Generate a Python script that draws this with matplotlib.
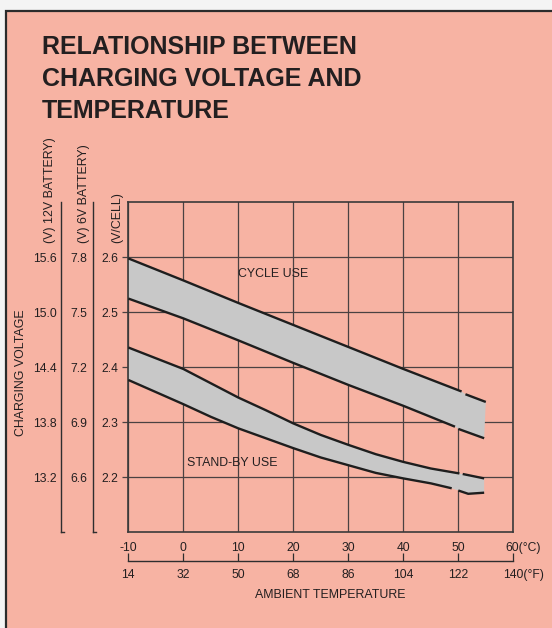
import numpy as np
import matplotlib
matplotlib.use("Agg")
import matplotlib.pyplot as plt
from matplotlib.patches import Rectangle

plt.rcParams['font.family'] = ['Liberation Sans', 'DejaVu Sans']

# axis ticks
temp_c = [-10, 0, 10, 20, 30, 40, 50, 60]
temp_f = [14, 32, 50, 68, 86, 104, 122, 140]
volt_cell = [2.2, 2.3, 2.4, 2.5, 2.6]
volt_12v = [13.2, 13.8, 14.4, 15.0, 15.6]
volt_6v = [6.6, 6.9, 7.2, 7.5, 7.8]

# curves (deg C, V/cell): solid part, then the short piece after the break
cycle_hi_t = [-10, 0, 10, 20, 30, 40, 50.6]
cycle_hi_v = [2.598, 2.558, 2.517, 2.477, 2.437, 2.397, 2.356]
cycle_hi_ext_t = [51.3, 55.0]
cycle_hi_ext_v = [2.351, 2.337]

cycle_lo_t = [-10, 0, 10, 20, 30, 40, 49.4]
cycle_lo_v = [2.525, 2.489, 2.449, 2.408, 2.368, 2.330, 2.292]
cycle_lo_ext_t = [50.0, 54.7]
cycle_lo_ext_v = [2.288, 2.271]

stby_hi_t = [-10, 0, 5, 10, 15, 20, 25, 30, 35, 40, 45, 50.2]
stby_hi_v = [2.436, 2.397, 2.371, 2.345, 2.322, 2.298, 2.277, 2.259, 2.242, 2.228, 2.216, 2.207]
stby_hi_ext_t = [50.8, 54.7]
stby_hi_ext_v = [2.206, 2.198]

stby_lo_t = [-10, 0, 5, 10, 15, 20, 25, 30, 35, 40, 45, 48.8]
stby_lo_v = [2.377, 2.333, 2.310, 2.289, 2.271, 2.253, 2.236, 2.222, 2.208, 2.198, 2.189, 2.180]
stby_lo_ext_t = [50.0, 51.8, 54.7]
stby_lo_ext_v = [2.176, 2.170, 2.172]

bg = "#f7b3a3"
ink = "#231f20"
band = "#c8c8c8"
grid_col = "#4a4242"
line_col = "#1e1e1e"

W, H = 552, 628
fig = plt.figure(figsize=(W / 100, H / 100), dpi=100)
fig.patch.set_facecolor("#f4f4f4")
panel = Rectangle((6 / W, -0.1), 1.2, 1 - 11.3 / H + 0.1, transform=fig.transFigure,
                  facecolor=bg, edgecolor="#2b2b2b", linewidth=1.6, zorder=-5)
fig.add_artist(panel)

# title
for i, line in enumerate(["RELATIONSHIP BETWEEN", "CHARGING VOLTAGE AND", "TEMPERATURE"]):
    fig.text(41.7 / W, 1 - (54.3 + 32 * i) / H, line, fontsize=18, fontweight="bold",
             color=ink, ha="left", va="baseline")

ax = fig.add_axes([128.3 / W, (H - 532.3) / H, 385 / W, 330 / H])
ax.set_facecolor("none")
ax.set_xlim(-10, 60)
ax.set_ylim(2.1, 2.7)

ax.set_xticks(temp_c, labels=[str(t) for t in temp_c[:-1]] + [""])
ax.set_yticks(volt_cell, labels=[f"{v:.1f}" for v in volt_cell])
ax.grid(True, color=grid_col, linewidth=0.9)
ax.set_axisbelow(True)
ax.tick_params(axis="x", length=0, pad=6.8, labelsize=8.7, labelcolor=ink)
ax.tick_params(axis="y", direction="out", length=4.5, width=0.9, color=grid_col,
               pad=2.5, labelsize=8.7, labelcolor=ink)
for s in ax.spines.values():
    s.set_color("#3a3a3a")
    s.set_linewidth(1.2)

# bands with broken edge lines
bands = [
    (cycle_hi_t, cycle_hi_v, cycle_hi_ext_t, cycle_hi_ext_v,
     cycle_lo_t, cycle_lo_v, cycle_lo_ext_t, cycle_lo_ext_v),
    (stby_hi_t, stby_hi_v, stby_hi_ext_t, stby_hi_ext_v,
     stby_lo_t, stby_lo_v, stby_lo_ext_t, stby_lo_ext_v),
]
for ht, hv, hxt, hxv, lt, lv, lxt, lxv in bands:
    xs = np.r_[ht, hxt, lxt[::-1], lt[::-1]]
    ys = np.r_[hv, hxv, lxv[::-1], lv[::-1]]
    ax.fill(xs, ys, color=band, lw=0, zorder=2)
    for t, v in [(ht, hv), (hxt, hxv), (lt, lv), (lxt, lxv)]:
        ax.plot(t, v, color=line_col, lw=1.7, zorder=3, solid_capstyle="butt",
                solid_joinstyle="round")

ax.text(10, 2.57, "CYCLE USE", fontsize=8.9, color=ink, ha="left", va="center", zorder=4)
ax.text(0.6, 2.2255, "STAND-BY USE", fontsize=8.9, color=ink, ha="left", va="center", zorder=4)

# deg C last label
ax.annotate("60(°C)", xy=(60, 0), xycoords=("data", "axes fraction"),
            xytext=(-8.3, -9.4), textcoords="offset pixels", ha="left", va="top",
            fontsize=8.7, color=ink, annotation_clip=False)

# deg F axis
fx = ax.secondary_xaxis(-0.086, functions=(lambda c: c * 1.8 + 32, lambda f: (f - 32) / 1.8))
fx.set_xticks(temp_f, labels=[str(t) for t in temp_f[:-1]] + [""])
fx.tick_params(direction="in", length=5.5, width=0.9, color="#2e2e2e", pad=6,
               labelsize=8.7, labelcolor=ink)
fx.spines["bottom"].set_color("#2e2e2e")
fx.spines["bottom"].set_linewidth(1.0)
ax.annotate("140(°F)", xy=(60, -0.086), xycoords=("data", "axes fraction"),
            xytext=(-10, -8.3), textcoords="offset pixels", ha="left", va="top",
            fontsize=8.7, color=ink, annotation_clip=False)
ax.text(0.5247, -0.2, "AMBIENT TEMPERATURE", transform=ax.transAxes, fontsize=8.9,
        color=ink, ha="center", va="baseline")

# battery voltage axes
y12 = ax.secondary_yaxis(-0.1748, functions=(lambda v: v * 6, lambda v: v / 6))
y12.set_yticks(volt_12v, labels=[f"{v:.1f}" for v in volt_12v])
y6 = ax.secondary_yaxis(-0.0925, functions=(lambda v: v * 3, lambda v: v / 3))
y6.set_yticks(volt_6v, labels=[f"{v:.1f}" for v in volt_6v])
for sa, pad in [(y12, 3), (y6, 4)]:
    sa.tick_params(length=0, pad=pad, labelsize=8.7, labelcolor=ink)
    sa.spines["left"].set_color("#2e2e2e")
    sa.spines["left"].set_linewidth(1.0)
for xa in (-0.1748, -0.0925):
    ax.plot([xa, xa + 0.009], [0.0, 0.0], transform=ax.transAxes, color="#2e2e2e",
            lw=1.0, clip_on=False)

# axis titles, bottom-aligned just above the 2.6 row
for xa, txt in [(-0.2034, "(V) 12V BATTERY)"), (-0.115, "(V) 6V BATTERY)"),
                (-0.028, "(V/CELL)")]:
    ax.text(xa, 0.877, txt, transform=ax.transAxes, rotation=90, fontsize=8.9,
            color=ink, ha="center", va="bottom")
ax.text(-0.279, 0.484, "CHARGING VOLTAGE", transform=ax.transAxes, rotation=90,
        fontsize=8.9, color=ink, ha="center", va="center")

fig.savefig("out.png", dpi=100, facecolor=fig.get_facecolor())
